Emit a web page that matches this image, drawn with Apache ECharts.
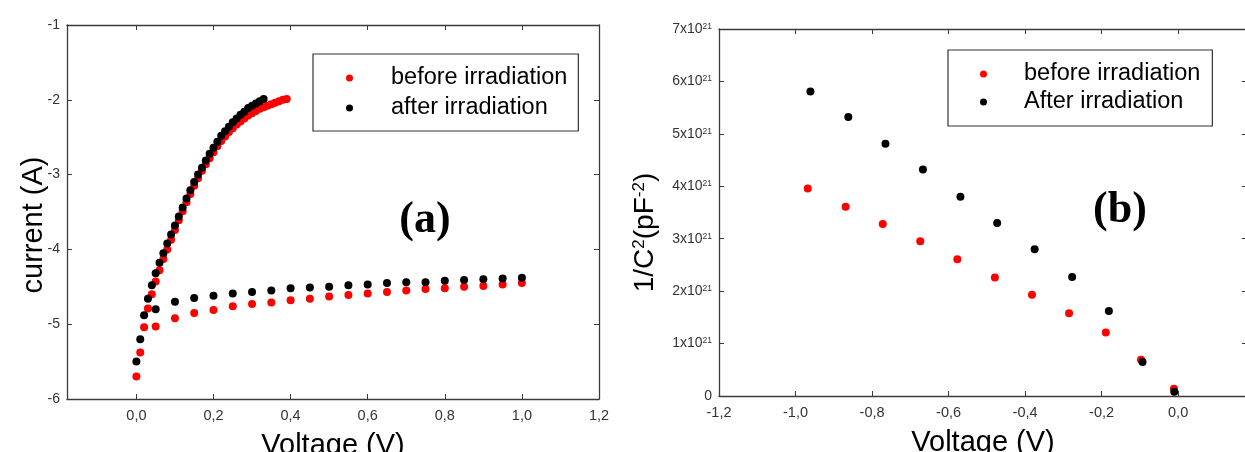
<!DOCTYPE html>
<html>
<head>
<meta charset="utf-8">
<script src="https://cdn.jsdelivr.net/npm/echarts@6/dist/echarts.min.js"></script>
<style>
  html, body { margin: 0; padding: 0; background: #fff; }
  #main { width: 1245px; height: 452px; }
</style>
</head>
<body>
<div id="main"></div>
<script>
// (a) forward sweep, one point every 0.01 V
var sweepV = [0.00,0.01,0.02,0.03,0.04,0.05,0.06,0.07,0.08,0.09,
              0.10,0.11,0.12,0.13,0.14,0.15,0.16,0.17,0.18,0.19,
              0.20,0.21,0.22,0.23,0.24,0.25,0.26,0.27,0.28,0.29,
              0.30,0.31,0.32,0.33,0.34,0.35,0.36,0.37,0.38,0.39];
var sweepBefore = [-5.70,-5.38,-5.04,-4.79,-4.60,-4.43,-4.28,-4.13,-4.00,-3.87,
                   -3.74,-3.61,-3.49,-3.37,-3.26,-3.15,-3.05,-2.95,-2.86,-2.78,
                   -2.70,-2.62,-2.55,-2.49,-2.43,-2.38,-2.33,-2.29,-2.25,-2.21,
                   -2.18,-2.15,-2.12,-2.10,-2.08,-2.06,-2.04,-2.02,-2.00,-1.99];
var sweepAfter = [-5.50,-5.20,-4.88,-4.66,-4.48,-4.32,-4.18,-4.05,-3.92,-3.80,
                  -3.68,-3.56,-3.44,-3.32,-3.21,-3.10,-3.00,-2.91,-2.81,-2.72,
                  -2.64,-2.56,-2.48,-2.42,-2.36,-2.30,-2.25,-2.20,-2.16,-2.11,
                  -2.08,-2.05,-2.02,-1.99];

// (a) lower branch, one point every 0.05 V
var flatV = [0.05,0.10,0.15,0.20,0.25,0.30,0.35,0.40,0.45,0.50,
             0.55,0.60,0.65,0.70,0.75,0.80,0.85,0.90,0.95,1.00];
var flatBefore = [-5.03,-4.92,-4.85,-4.81,-4.76,-4.73,-4.71,-4.68,-4.66,-4.63,
                  -4.61,-4.59,-4.57,-4.55,-4.53,-4.52,-4.50,-4.49,-4.47,-4.45];
var flatAfter = [-4.80,-4.70,-4.65,-4.62,-4.59,-4.57,-4.55,-4.52,-4.51,-4.50,
                 -4.48,-4.47,-4.45,-4.44,-4.44,-4.42,-4.41,-4.40,-4.39,-4.38];

// (b) 1/C^2 against reverse voltage
var cvBeforeV = [-0.968,-0.869,-0.772,-0.674,-0.577,-0.479,-0.382,-0.285,-0.189,-0.097,-0.011];
var cvBefore = [3.96e21,3.61e21,3.28e21,2.95e21,2.61e21,2.26e21,1.93e21,1.58e21,1.21e21,0.69e21,0.14e21];
var cvAfterV = [-0.961,-0.862,-0.765,-0.667,-0.569,-0.473,-0.375,-0.277,-0.181,-0.093,-0.010];
var cvAfter = [5.81e21,5.32e21,4.81e21,4.32e21,3.80e21,3.30e21,2.80e21,2.27e21,1.62e21,0.65e21,0.08e21];

var ticksA = [0, 0.2, 0.4, 0.6, 0.8, 1.0, 1.2];
var ticksB = [-1.2, -1.0, -0.8, -0.6, -0.4, -0.2, 0.0];

var FONT = '"Liberation Sans", Arial, sans-serif';

function pairs(xs, ys) {
  var out = [];
  for (var i = 0; i < ys.length; i++) out.push([xs[i], ys[i]]);
  return out;
}
function comma(v) { return v.toFixed(1).replace('.', ','); }

function xAx(grid, pos, min, max, ticks, labels) {
  return {
    type: 'value', gridIndex: grid, position: pos, min: min, max: max,
    axisLine: { onZero: false, lineStyle: { color: '#3a3a3a', width: 1.3 } },
    axisTick: { inside: true, length: 5, customValues: ticks, lineStyle: { color: '#3a3a3a' } },
    axisLabel: { show: labels, customValues: ticks, formatter: comma, margin: 9,
                 color: '#333', fontSize: 14.5, fontFamily: FONT },
    splitLine: { show: false }
  };
}
function yAx(grid, pos, min, max, step, labels, fmt) {
  return {
    type: 'value', gridIndex: grid, position: pos, min: min, max: max, interval: step,
    axisLine: { onZero: false, lineStyle: { color: '#3a3a3a', width: 1.3 } },
    axisTick: { inside: true, length: 5, lineStyle: { color: '#3a3a3a' } },
    axisLabel: { show: labels, formatter: fmt, margin: 7, color: '#333',
                 fontSize: 14, fontFamily: FONT,
                 rich: { sup: { fontSize: 8.5, verticalAlign: 'top', color: '#333', fontFamily: FONT } } },
    splitLine: { show: false }
  };
}

var xA = xAx(0, 'bottom', -0.18, 1.2, ticksA, true);
xA.name = 'Voltage (V)'; xA.nameLocation = 'middle'; xA.nameGap = 32; xA.nameMoveOverlap = false;
xA.nameTextStyle = { fontSize: 29, color: '#000', fontFamily: FONT };
var xB = xAx(1, 'bottom', -1.2, 0.18, ticksB, true);
xB.name = 'Voltage (V)'; xB.nameLocation = 'middle'; xB.nameGap = 32; xB.nameMoveOverlap = false;
xB.nameTextStyle = { fontSize: 29, color: '#000', fontFamily: FONT };

var yA = yAx(0, 'left', -6, -1, 1, true, function (v) { return String(v); });
yA.name = 'current (A)'; yA.nameLocation = 'middle'; yA.nameGap = 19; yA.nameMoveOverlap = false;
yA.nameTextStyle = { fontSize: 29, color: '#000', fontFamily: FONT, padding: [0, 26, 0, 0] };
var yB = yAx(1, 'left', 0, 7e21, 1e21, true, function (v) {
  return v === 0 ? '0' : Math.round(v / 1e21) + 'x10{sup|21}';
});
yB.name = '1/C{s|2}(pF{s|-2})'; yB.nameLocation = 'middle'; yB.nameGap = 60; yB.nameMoveOverlap = false;
yB.nameTextStyle = { fontSize: 28, color: '#000', fontFamily: FONT, padding: [0, 40, 0, 0],
  rich: { s: { fontSize: 17, verticalAlign: 'top', color: '#000', fontFamily: FONT } } };

var myChart = echarts.init(document.getElementById('main'));

var option = {
  animation: false,
  backgroundColor: '#fff',
  grid: [
    { left: 67, top: 25, width: 532, height: 374, outerBoundsMode: 'none', containLabel: false },
    { left: 719, top: 29, width: 528, height: 367, outerBoundsMode: 'none', containLabel: false }
  ],
  xAxis: [
    xA,
    xAx(0, 'top', -0.18, 1.2, ticksA, false),
    xB,
    xAx(1, 'top', -1.2, 0.18, ticksB, false)
  ],
  yAxis: [
    yA,
    yAx(0, 'right', -6, -1, 1, false),
    yB,
    yAx(1, 'right', 0, 7e21, 1e21, false)
  ],
  legend: [
    {
      orient: 'vertical', left: 313, top: 54, selectedMode: false,
      data: ['before irradiation', 'after irradiation'],
      icon: 'circle', itemWidth: 7, itemHeight: 7, itemGap: 6,
      padding: [12, 11, 11, 33], borderColor: '#333', borderWidth: 1.2,
      textStyle: { fontSize: 23.5, lineHeight: 24, color: '#000', fontFamily: FONT, padding: [0, 0, 0, 33] }
    },
    {
      orient: 'vertical', left: 948, top: 50, selectedMode: false,
      data: ['before irradiation', 'After irradiation'],
      icon: 'circle', itemWidth: 7, itemHeight: 7, itemGap: 4,
      padding: [12, 12, 12, 32], borderColor: '#333', borderWidth: 1.2,
      textStyle: { fontSize: 23.5, lineHeight: 24, color: '#000', fontFamily: FONT, padding: [0, 0, 0, 32] }
    }
  ],
  graphic: [
    { type: 'text', x: 425, y: 221, style: { text: '(a)', font: 'bold 44px "Liberation Serif", serif',
      fill: '#000', align: 'center', verticalAlign: 'middle' } },
    { type: 'text', x: 1120, y: 211, style: { text: '(b)', font: 'bold 44px "Liberation Serif", serif',
      fill: '#000', align: 'center', verticalAlign: 'middle' } }
  ],
  series: [
    {
      name: 'before irradiation', type: 'scatter', xAxisIndex: 0, yAxisIndex: 0,
      symbolSize: 8, itemStyle: { color: '#ff0000', opacity: 1 },
      data: pairs(sweepV, sweepBefore).concat(pairs(flatV, flatBefore))
    },
    {
      name: 'after irradiation', type: 'scatter', xAxisIndex: 0, yAxisIndex: 0,
      symbolSize: 8, itemStyle: { color: '#000', opacity: 1 },
      data: pairs(sweepV, sweepAfter).concat(pairs(flatV, flatAfter))
    },
    {
      name: 'before irradiation', type: 'scatter', xAxisIndex: 2, yAxisIndex: 2,
      symbolSize: 8, itemStyle: { color: '#ff0000', opacity: 1 },
      data: pairs(cvBeforeV, cvBefore)
    },
    {
      name: 'After irradiation', type: 'scatter', xAxisIndex: 2, yAxisIndex: 2,
      symbolSize: 8, itemStyle: { color: '#000', opacity: 1 },
      data: pairs(cvAfterV, cvAfter)
    }
  ]
};

myChart.setOption(option);
</script>
</body>
</html>
